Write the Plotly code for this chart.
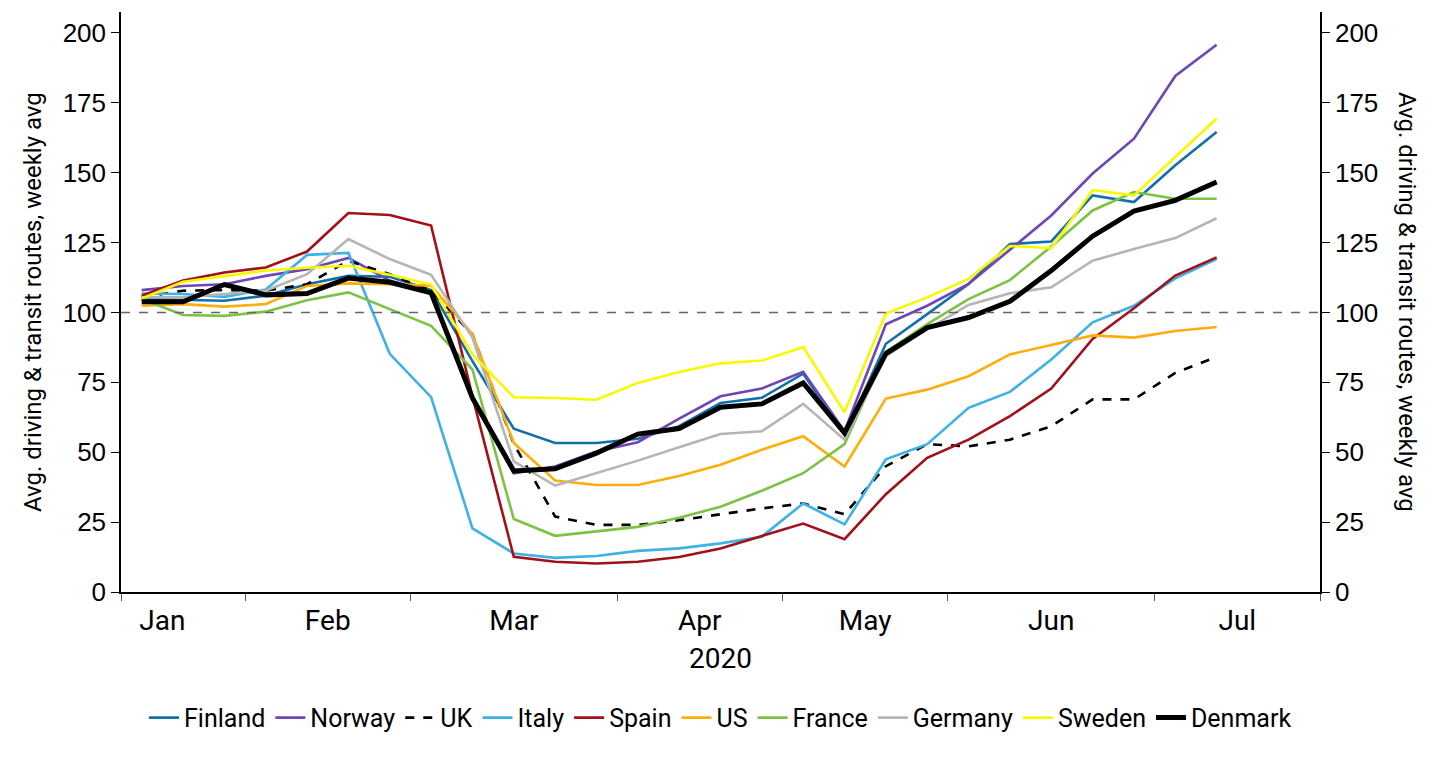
import pandas as pd
import plotly.graph_objects as go

# Weekly index values (27 weeks, starting week of 13 Jan 2020)
finland = [104.8, 104.4, 104.2, 106.0, 110.1, 113.1, 112.8, 108.0, 82.6, 58.4, 53.3, 53.3, 54.8, 59.3,
           67.6, 69.5, 78.1, 56.3, 88.8, 99.4, 110.2, 124.5, 125.4, 141.9, 139.5, 152.7, 164.6]
norway = [108.0, 109.5, 110.1, 113.1, 115.5, 119.5, 111.4, 107.2, 68.8, 42.5, 44.9, 50.3, 53.6, 62.0,
          70.0, 72.8, 78.8, 57.5, 95.8, 102.4, 110.2, 122.5, 134.7, 149.7, 162.2, 184.6, 195.8]
uk = [105.4, 107.8, 108.0, 107.8, 110.1, 118.5, 113.7, 107.8, 92.2, 53.0, 27.0, 24.0, 24.0, 25.7,
      27.8, 29.9, 31.7, 27.8, 45.0, 52.9, 52.1, 54.5, 59.3, 68.9, 68.9, 78.4, 84.1]
italy = [106.8, 106.6, 105.6, 108.2, 120.6, 121.3, 85.2, 69.7, 22.8, 13.8, 12.2, 12.9, 14.7, 15.6,
         17.4, 19.8, 31.7, 24.2, 47.5, 52.9, 65.9, 71.6, 83.2, 96.5, 102.4, 112.2, 119.1]
spain = [106.0, 111.4, 114.3, 116.1, 121.8, 135.6, 134.9, 131.1, 70.0, 12.6, 10.8, 10.2, 10.8, 12.5,
         15.6, 20.1, 24.5, 18.9, 35.0, 48.0, 54.5, 62.9, 72.8, 90.5, 101.5, 113.2, 119.7]
us = [102.4, 103.0, 102.1, 103.0, 109.5, 110.4, 110.1, 109.6, 92.2, 53.3, 39.9, 38.3, 38.3, 41.5,
      45.5, 50.9, 55.7, 44.9, 69.2, 72.4, 77.2, 85.0, 88.4, 91.8, 91.0, 93.4, 94.8]
france = [104.8, 99.1, 98.8, 100.3, 104.4, 107.2, 101.2, 95.2, 79.6, 26.1, 20.1, 21.8, 23.3, 26.6,
          30.5, 36.2, 42.5, 52.9, 85.9, 95.8, 104.8, 111.6, 123.6, 136.5, 143.1, 140.7, 140.7]
germany = [105.4, 105.4, 106.6, 107.8, 113.7, 126.3, 119.1, 113.5, 91.0, 46.7, 38.1, 42.5, 47.0, 51.8,
           56.5, 57.5, 67.3, 54.5, 84.4, 94.0, 102.7, 106.9, 109.0, 118.5, 122.7, 126.6, 133.7]
sweden = [105.0, 111.0, 113.0, 115.0, 116.0, 116.7, 113.5, 110.0, 85.0, 69.7, 69.4, 68.8, 74.8, 78.7,
          81.8, 82.8, 87.6, 64.3, 99.6, 105.4, 112.0, 123.8, 123.0, 143.8, 141.9, 155.7, 169.4]
denmark = [103.8, 103.8, 110.0, 106.3, 106.8, 112.3, 110.8, 107.0, 69.4, 43.3, 44.1, 49.7, 56.5, 58.5,
           66.1, 67.3, 74.8, 56.9, 85.3, 94.6, 98.2, 104.0, 115.0, 127.3, 136.3, 140.1, 146.7]

countries = ["Finland", "Norway", "UK", "Italy", "Spain", "US", "France", "Germany", "Sweden", "Denmark"]
values = [finland, norway, uk, italy, spain, us, france, germany, sweden, denmark]
y_ticks = [0, 25, 50, 75, 100, 125, 150, 175, 200]
axis_title = "Avg. driving & transit routes, weekly avg"
year_label = "2020"

colors = {"Finland": "#1170AA", "Norway": "#7045B5", "UK": "#000000", "Italy": "#3EB1E6",
          "Spain": "#A3101A", "US": "#FFAD0A", "France": "#7DC242", "Germany": "#B5B5B5",
          "Sweden": "#F8F800", "Denmark": "#000000"}

# weekly category slots on the axis (Mondays), data fills the first 27
slots = pd.date_range("2020-01-13", "2020-07-27", freq="W-MON")
n_slots = len(slots)
months = slots.month
bounds = [-0.5] + [i - 0.5 for i in range(1, n_slots) if months[i] != months[i - 1]] + [n_slots - 0.5]
# month label centre: middle of all Mondays in that month (relative to axis start)
label_pos, label_txt = [], []
for m in sorted(set(months)):
    first = pd.Timestamp(2020, m, 1)
    allm = pd.date_range(first, first + pd.offsets.MonthEnd(0), freq="W-MON")
    idx = [(d - slots[0]).days / 7 for d in allm]
    label_pos.append((min(idx) + max(idx)) / 2)
    label_txt.append(first.strftime("%b"))

x = list(range(len(finland)))
fig = go.Figure()
for name, vals in zip(countries, values):
    fig.add_trace(go.Scatter(
        x=x, y=vals, mode="lines", name=name,
        line=dict(color=colors[name], width=5 if name == "Denmark" else 2.6,
                  dash="dash" if name == "UK" else "solid"),
    ))
# helper traces to activate the right axis and the month-label axis
fig.add_trace(go.Scatter(x=[x[0]], y=[None], yaxis="y2", showlegend=False, hoverinfo="skip"))
fig.add_trace(go.Scatter(x=[x[0]], y=[None], xaxis="x2", showlegend=False, hoverinfo="skip"))

font_main = "Roboto"
xr = [-0.5, n_slots - 0.5]
yr = [0, 207.5]
fig.update_layout(
    width=1440, height=758, paper_bgcolor="white", plot_bgcolor="white",
    margin=dict(l=113, r=128, t=4, b=174),
    showlegend=True,
    legend=dict(orientation="h", x=0.5, xanchor="center", y=-0.217, yanchor="middle",
                font=dict(family=font_main, size=25, color="#000"), itemwidth=30,
                tracegroupgap=0),
    xaxis=dict(range=xr, tickmode="array", tickvals=bounds, ticktext=[""] * len(bounds),
               ticks="outside", ticklen=7, tickcolor="#555", tickwidth=1,
               showline=True, linecolor="#000", linewidth=1.5, showgrid=False, zeroline=False),
    xaxis2=dict(range=xr, overlaying="x", side="bottom", anchor="y", tickmode="array",
                tickvals=label_pos, ticktext=label_txt, ticks="outside", ticklen=3,
                tickcolor="rgba(0,0,0,0)", showline=False, showgrid=False, zeroline=False,
                tickfont=dict(family=font_main, size=28, color="#000"),
                title=dict(text=year_label, font=dict(family=font_main, size=28, color="#000"), standoff=12)),
    yaxis=dict(range=yr, tickmode="array", tickvals=y_ticks, ticks="outside", ticklen=8,
               tickcolor="#000", showline=True, linecolor="#000", linewidth=1.5,
               showgrid=False, zeroline=False,
               tickfont=dict(family="Liberation Sans", size=26, color="#000")),
    yaxis2=dict(range=yr, overlaying="y", side="right", tickmode="array", tickvals=y_ticks,
                ticks="outside", ticklen=8, tickcolor="#000", showline=True, linecolor="#000",
                linewidth=1.5, showgrid=False, zeroline=False,
                tickfont=dict(family="Liberation Sans", size=26, color="#000")),
    shapes=[dict(type="line", xref="paper", x0=0, x1=1, yref="y", y0=100, y1=100,
                 line=dict(color="#666", width=1.3, dash="dash"))],
    annotations=[
        dict(text=axis_title, xref="paper", yref="paper", x=-0.0734, y=0.5, textangle=-90,
             showarrow=False, font=dict(family=font_main, size=24, color="#000"),
             xanchor="center", yanchor="middle"),
        dict(text=axis_title, xref="paper", yref="paper", x=1.0726, y=0.5, textangle=90,
             showarrow=False, font=dict(family=font_main, size=24, color="#000"),
             xanchor="center", yanchor="middle"),
    ],
)
fig.write_html("out.html")
